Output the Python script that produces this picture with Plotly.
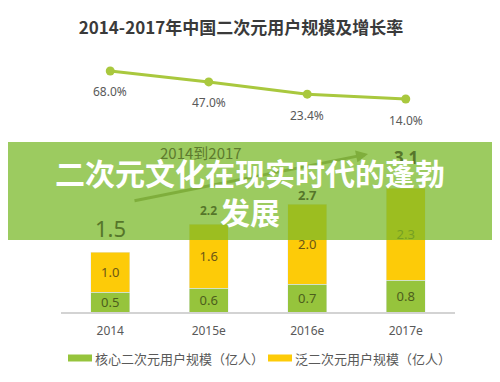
import plotly.graph_objects as go

# ---- data ----
years = ["2014", "2015e", "2016e", "2017e"]
core_users = [0.5, 0.6, 0.7, 0.8]
pan_users = [1.0, 1.6, 2.0, 2.3]
total_users = [1.5, 2.2, 2.7, 3.1]
growth_rate = [68.0, 47.0, 23.4, 14.0]
growth_labels = ["68.0%", "47.0%", "23.4%", "14.0%"]
core_name = "核心二次元用户规模（亿人）"
pan_name = "泛二次元用户规模（亿人）"
title_text = "2014-2017年中国二次元用户规模及增长率"
banner_lines = ["二次元文化在现实时代的蓬勃", "发展"]
note_text = "2014到2017"

# ---- styles ----
FONT = "Noto Sans, Noto Sans CJK SC, sans-serif"
CJK = "Noto Sans CJK SC, sans-serif"
core_color = "#96c43c"
pan_color = "#fdcb08"
line_color = "#a9c83e"
total_shift = [24, 14, 9, 31]
total_size = [22, 12, 13, 17]

# page body has an 8px margin; compensate
OFF = 8
W, H = 500 - OFF, 382 - OFF
L, T = 61 - OFF, 40 - OFF
B = H - (312 - OFF)
R = W - (455 - OFF)
PW, PH = W - L - R, H - T - B


def px(x):
    return (x - OFF - L) / PW


def py(y):
    return (H - B - (y - OFF)) / PH


fig = go.Figure()
fig.add_trace(go.Bar(
    x=years, y=core_users, name=core_name, marker_color=core_color,
    width=0.4, text=[f"{v:.1f}" for v in core_users], textposition="inside",
    insidetextanchor="middle", textfont=dict(color="#4d5e1c", size=13, family=FONT),
    showlegend=False))
fig.add_trace(go.Bar(
    x=years, y=pan_users, name=pan_name, marker_color=pan_color,
    width=0.4, text=[f"{v:.1f}" for v in pan_users], textposition="inside",
    insidetextanchor="middle", textfont=dict(color="#6b5616", size=13, family=FONT),
    showlegend=False))
fig.add_trace(go.Scatter(
    x=years, y=growth_rate, yaxis="y2", mode="lines+markers",
    line=dict(color=line_color, width=3), marker=dict(size=9, color=line_color),
    showlegend=False))

annotations = []
for i, (v, lab) in enumerate(zip(growth_rate, growth_labels)):
    annotations.append(dict(x=i, y=v, xref="x", yref="y2", text=lab, showarrow=False,
                            yshift=-21, yanchor="middle",
                            font=dict(size=12, color="#595959", family=FONT)))

# arrow + note (under the banner)
annotations.append(dict(x=2.617, y=3.95, xref="x", yref="y", ax=0.231, ay=2.775,
                        axref="x", ayref="y", showarrow=True, arrowhead=2,
                        arrowsize=0.8, arrowwidth=3, arrowcolor="#7fae3c", text=""))
annotations.append(dict(x=px(201), y=py(152), xref="paper", yref="paper", text=note_text,
                        showarrow=False, yanchor="middle", xanchor="center",
                        font=dict(size=15, color="#5d7a2e", family=CJK)))

for i, (tot, sh, sz) in enumerate(zip(total_users, total_shift, total_size)):
    annotations.append(dict(x=i, y=tot, xref="x", yref="y",
                            text=f"<b>{tot:.1f}</b>" if sz < 20 else f"{tot:.1f}",
                            showarrow=False, yshift=sh, yanchor="middle",
                            font=dict(size=sz, color="#56762a", family=FONT)))

# legend (custom)
shapes = []
leg = [(core_name, core_color, 68), (pan_name, pan_color, 268)]
for name, col, x0 in leg:
    shapes.append(dict(type="rect", xref="paper", yref="paper", x0=px(x0), x1=px(x0 + 24),
                       y0=py(361.5), y1=py(354.5), fillcolor=col, line=dict(width=0)))
    annotations.append(dict(x=px(x0 + 25), y=py(358), xref="paper", yref="paper", text=name,
                            xanchor="left", yanchor="middle", showarrow=False,
                            font=dict(size=13, color="#595959", family=CJK)))

# banner overlay
shapes.append(dict(type="rect", xref="paper", yref="paper", x0=px(0), x1=px(505),
                   y0=py(240), y1=py(142), fillcolor="rgba(122,185,40,0.74)",
                   line=dict(width=0), layer="above"))
for line_txt, yc in zip(banner_lines, [172, 211]):
    annotations.append(dict(x=px(250), y=py(yc), xref="paper", yref="paper",
                            text=f"<b>{line_txt}</b>", showarrow=False,
                            xanchor="center", yanchor="middle",
                            font=dict(size=30, color="white", family=CJK)))

fig.update_layout(
    width=W, height=H, barmode="stack",
    margin=dict(l=L, r=R, t=T, b=B),
    paper_bgcolor="white", plot_bgcolor="white",
    uniformtext=dict(minsize=13, mode="show"),
    title=dict(text=f"<b>{title_text}</b>", x=(241 - OFF) / W, xanchor="center",
               y=1 - (28 - OFF) / H, yanchor="middle",
               font=dict(size=17, color="#3a3a3a", family=CJK)),
    xaxis=dict(type="category", range=[-0.5, 3.5], showline=True, linecolor="#d3d3d3",
               linewidth=1.5, showgrid=False, zeroline=False, ticklabelstandoff=7,
               tickfont=dict(size=12, color="#595959", family=FONT)),
    yaxis=dict(range=[0, 6.8], visible=False, fixedrange=True),
    yaxis2=dict(range=[-396.3, 127.7], overlaying="y", visible=False),
    shapes=shapes, annotations=annotations,
)

fig.write_html("out.html")
